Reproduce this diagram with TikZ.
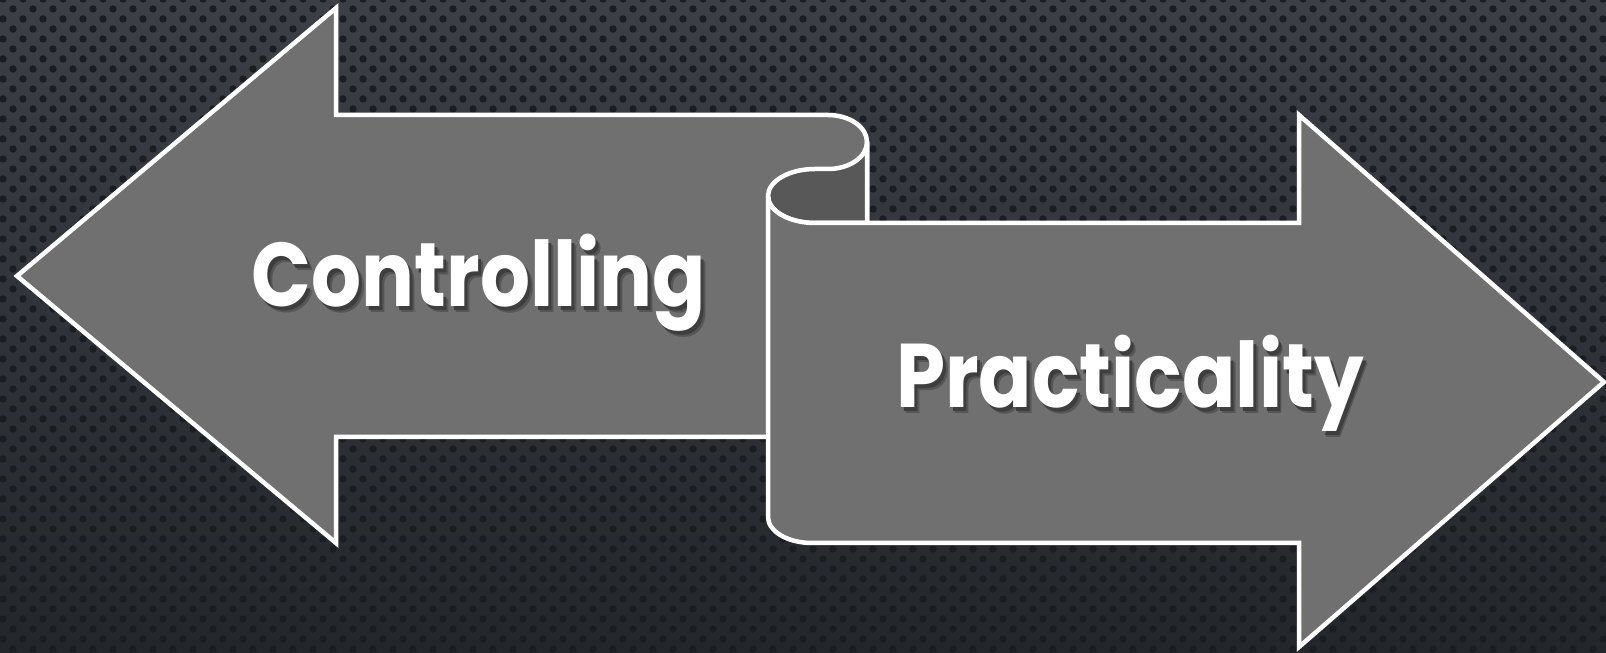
\documentclass[tikz,border=0pt]{standalone}
\usepackage{fontspec}
\newfontfamily\popfont{Poppins}
\definecolor{bgtop}{HTML}{3C3F46}
\definecolor{bgbot}{HTML}{23262B}
\definecolor{dotc}{HTML}{1A1D22}
\definecolor{arrowfill}{HTML}{707070}
\definecolor{curlfill}{HTML}{585858}
\definecolor{shadA}{HTML}{3E3E3E}
\definecolor{shadB}{HTML}{565656}
\newcommand{\shadowtext}[1]{%
  \makebox[0pt][l]{\hspace{2.4pt}\raisebox{-2.4pt}{\textcolor{shadB}{#1}}}%
  \makebox[0pt][l]{\hspace{1.5pt}\raisebox{-1.5pt}{\textcolor{shadA}{#1}}}%
  \textcolor{white}{#1}}
\begin{document}
\begin{tikzpicture}[x=0.5pt,y=0.5pt,
  shapestyle/.style={fill=arrowfill, draw=white, line width=2.25pt, line join=miter, miter limit=10},
  curlstyle/.style={fill=curlfill, draw=white, line width=2.25pt, line join=round},
  txt/.style={font=\popfont\bfseries\fontsize{39.3}{46}\selectfont, inner sep=0pt, anchor=base}]
\useasboundingbox (0,0) rectangle (1606,653);
\shade[top color=bgtop,bottom color=bgbot] (0,0) rectangle (1606,653);
\foreach \i in {0,...,80}{
  \fill[dotc] \foreach \j in {0,...,32} {({3+20*\i},{14+20*\j}) circle (3.7) ({13+20*\i},{4+20*\j}) circle (3.7)};
}
% left arrow
\path[shapestyle] (17,377) -- (336,645) -- (336,538) -- (828,538)
  arc[start angle=90,end angle=0,x radius=39,y radius=27] -- (867,216) -- (336,216) -- (336,110) -- cycle;
% curl (back side of scroll)
\path[curlstyle] (867,511) arc[start angle=0,end angle=-90,x radius=39,y radius=27] -- (815,484)
  arc[start angle=90,end angle=270,x radius=47,y radius=27] -- (867,430) -- cycle;
% right arrow
\path[shapestyle] (815,430) arc[start angle=270,end angle=180,x radius=47,y radius=27] -- (768,136)
  arc[start angle=180,end angle=270,x radius=44,y radius=26] -- (1299,110) -- (1299,6) -- (1604,271)
  -- (1299,538) -- (1299,430) -- cycle;
% texts
\node[txt] (ctl) at (479,346) {\scalebox{1}[1.15]{\shadowtext{Controlling}}};
\node[txt] (pra) at (1130,245) {\scalebox{1}[1.15]{\shadowtext{Practicality}}};
\end{tikzpicture}
\end{document}
